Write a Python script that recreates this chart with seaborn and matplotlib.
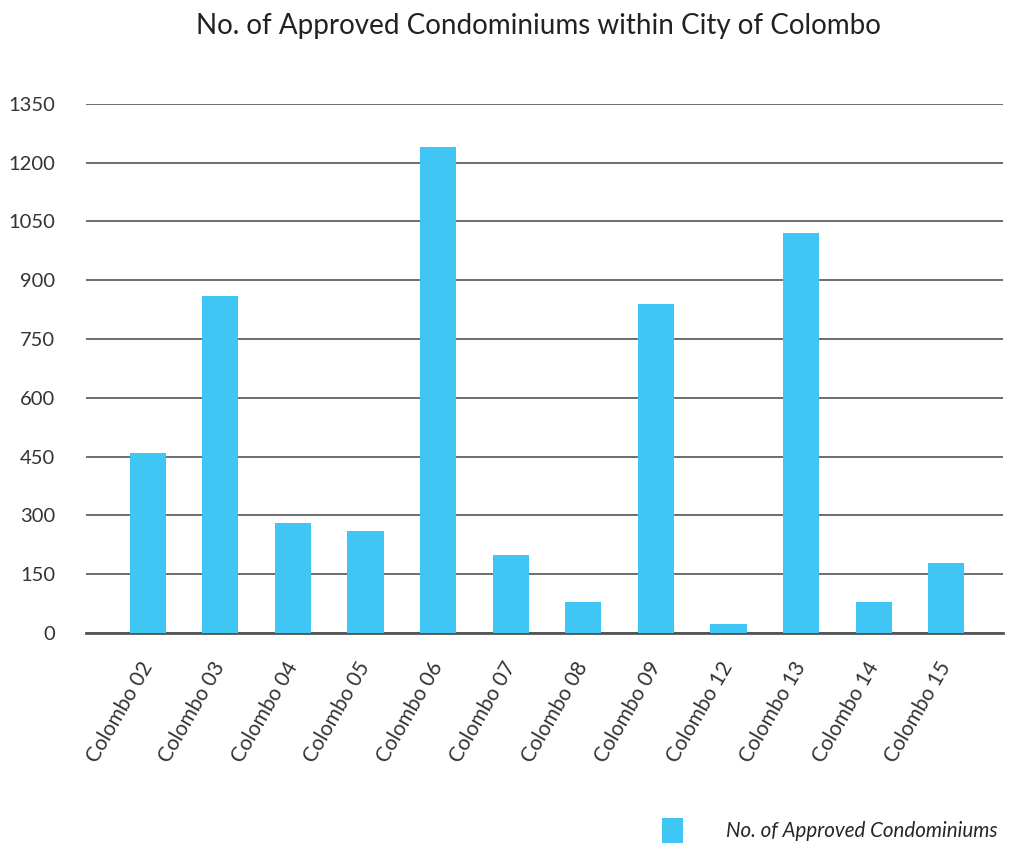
import matplotlib
matplotlib.use("Agg")
import matplotlib.pyplot as plt
import seaborn as sns
import pandas as pd

# data
districts = ['Colombo 02', 'Colombo 03', 'Colombo 04', 'Colombo 05', 'Colombo 06', 'Colombo 07',
             'Colombo 08', 'Colombo 09', 'Colombo 12', 'Colombo 13', 'Colombo 14', 'Colombo 15']
approved = [460, 860, 280, 260, 1240, 200, 80, 840, 23, 1020, 80, 180]
y_ticks = [0, 150, 300, 450, 600, 750, 900, 1050, 1200, 1350]

bar_color = '#40C6F4'
series_name = 'No. of Approved Condominiums'

sns.set_style('white')
plt.rcParams['font.family'] = ['Lato', 'DejaVu Sans']

df = pd.DataFrame({'District': districts, 'Count': approved})

fig = plt.figure(figsize=(10.09, 8.43), dpi=100)
ax = fig.add_axes([0.0852, 0.249, 0.9088, 0.628])

sns.barplot(data=df, x='District', y='Count', color=bar_color, width=0.5,
            saturation=1, linewidth=0, ax=ax, label=series_name, zorder=3)

ax.set_ylim(0, 1350)
ax.set_yticks(y_ticks)
ax.set_xlim(-0.85, 11.78)
ax.yaxis.grid(True, color='#555555', linewidth=1.2, zorder=0)
ax.set_axisbelow(True)
for side in ['top', 'right', 'left']:
    ax.spines[side].set_visible(False)
ax.spines['bottom'].set_color('#555555')
ax.spines['bottom'].set_linewidth(2)

ax.tick_params(axis='y', length=0, pad=22, labelsize=14.5, labelcolor='#333333')
ax.tick_params(axis='x', length=0, pad=22, labelsize=15, labelcolor='#333333')
plt.setp(ax.get_xticklabels(), rotation=60, ha='right', va='center', rotation_mode='anchor')
ax.set_xlabel('')
ax.set_ylabel('')

fig.suptitle('No. of Approved Condominiums within City of Colombo', x=0.534, y=0.985,
             fontsize=20, color='#222222')

if ax.legend_:
    ax.legend_.remove()
handles, labels = ax.get_legend_handles_labels()
fig.legend(handles[:1], labels[:1], loc='lower right', bbox_to_anchor=(1.007, -0.022),
           frameon=False, handlelength=1.0, handleheight=1.5, handletextpad=2.1,
           prop={'style': 'italic', 'size': 14.8})

fig.savefig('out.png', dpi=100)
